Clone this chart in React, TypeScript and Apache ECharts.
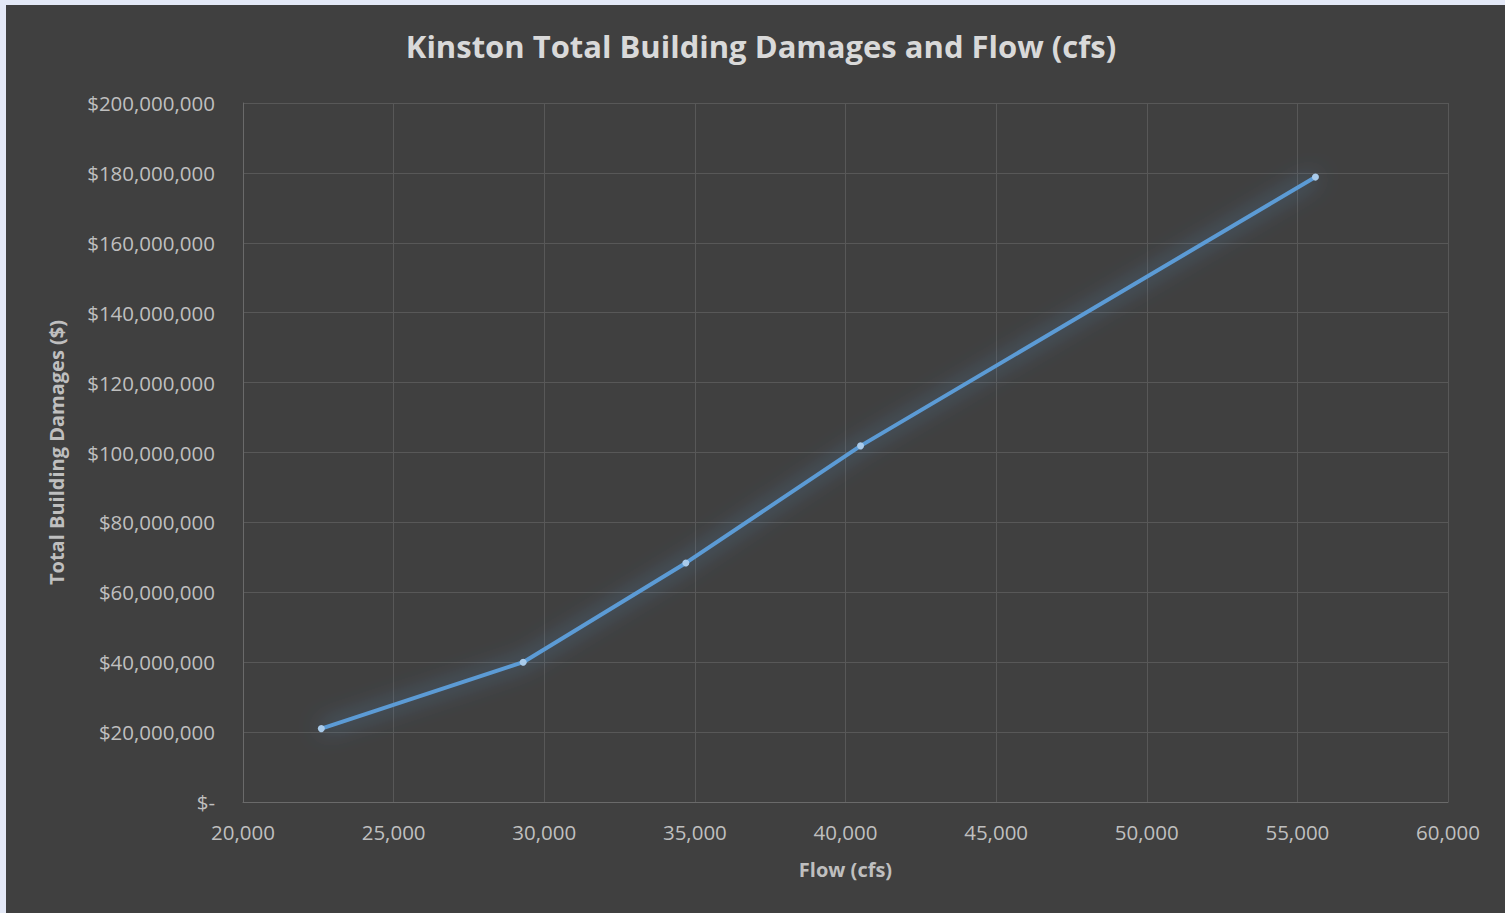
import React, { useEffect, useRef } from "react";
import * as echarts from "echarts";

const flows = [22600, 29300, 34700, 40500, 55600];
const damages = [21000000, 40000000, 68400000, 101900000, 178800000];
const titleText = "Kinston Total Building Damages and Flow (cfs)";
const xName = "Flow (cfs)";
const yName = "Total Building Damages ($)";

const fmtMoney = (v: number) => (v === 0 ? "$-" : "$" + v.toLocaleString("en-US"));
const fmtNum = (v: number) => v.toLocaleString("en-US");

export default function App() {
  const ref = useRef<HTMLDivElement>(null);
  useEffect(() => {
    if (!ref.current) return;
    const chart = echarts.init(ref.current, undefined, { renderer: "svg" });
    const font = "'Open Sans', sans-serif";
    chart.setOption({
      animation: false,
      backgroundColor: "#404040",
      title: {
        text: titleText,
        left: 750,
        textAlign: "center",
        top: 20,
        textStyle: { color: "#d9d9d9", fontSize: 31, fontWeight: "bold", fontFamily: font },
      },
      grid: { left: 237, top: 98, right: 57, bottom: 111, containLabel: false },
      xAxis: {
        type: "value",
        min: 20000,
        max: 60000,
        interval: 5000,
        name: xName,
        nameLocation: "middle",
        nameGap: 57,
        nameTextStyle: { color: "#bfbfbf", fontSize: 20, fontWeight: "bold", fontFamily: font },
        axisLine: { show: true, lineStyle: { color: "#6a6a6a", width: 1 } },
        axisTick: { show: false },
        axisLabel: { color: "#bfbfbf", fontSize: 20.5, fontFamily: font, margin: 19, formatter: fmtNum },
        splitLine: { show: true, lineStyle: { color: "#585858", width: 1 } },
      },
      yAxis: {
        type: "value",
        min: 0,
        max: 200000000,
        interval: 20000000,
        name: yName,
        nameLocation: "middle",
        nameRotate: 90,
        nameGap: 177,
        nameTextStyle: { color: "#bfbfbf", fontSize: 20, fontWeight: "bold", fontFamily: font },
        axisLine: { show: true, lineStyle: { color: "#6a6a6a", width: 1 } },
        axisTick: { show: false },
        axisLabel: { color: "#bfbfbf", fontSize: 20.5, fontFamily: font, margin: 28, formatter: fmtMoney },
        splitLine: { show: true, lineStyle: { color: "#585858", width: 1 } },
      },
      series: [
        {
          type: "line",
          data: flows.map((f, i) => [f, damages[i]]),
          symbol: "circle",
          symbolSize: 7,
          itemStyle: { color: "#a9cbeb", borderWidth: 0 },
          lineStyle: {
            color: "#5b9bd5",
            width: 4,
            shadowBlur: 22,
            shadowColor: "rgba(91,155,213,0.85)",
          },
        },
      ],
    });
    return () => chart.dispose();
  }, []);
  return (
    <div style={{ position: "fixed", left: 0, top: 0, width: 1505, height: 913, background: "#e4e9f7" }}>
      <div ref={ref} style={{ position: "absolute", left: 6, top: 5, width: 1499, height: 908 }} />
    </div>
  );
}
